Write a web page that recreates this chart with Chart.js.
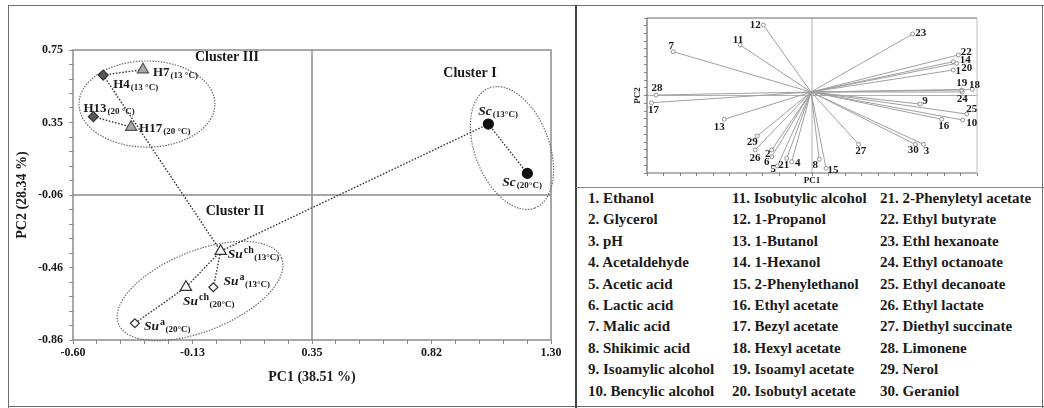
<!DOCTYPE html>
<html>
<head>
<meta charset="utf-8">
<script src="https://cdn.jsdelivr.net/npm/chart.js@4.4.1/dist/chart.umd.min.js"></script>
<style>
  html, body { margin: 0; padding: 0; background: #fff; }
  #fig { position: relative; width: 1044px; height: 408px; overflow: hidden; background: #fff; }
  #score { position: absolute; left: 0; top: 0; }
  #load { position: absolute; left: 577px; top: 0; }
  .rule { position: absolute; background: #6e6e6e; }
  #key { position: absolute; left: 588px; top: 188px; font: bold 15px "Liberation Serif", "Times New Roman", serif; color: #1a1a1a; }
  #key .col { position: absolute; top: 0; white-space: nowrap; line-height: 21.4px; }
</style>
</head>
<body>
<div id="fig">
  <canvas id="score" width="576" height="408"></canvas>
  <canvas id="load" width="467" height="187"></canvas>
  <div id="key"></div>
  <div class="rule" style="left:8px;top:5px;width:1036px;height:1px;"></div>
  <div class="rule" style="left:8px;top:5px;width:1px;height:403px;"></div>
  <div class="rule" style="left:8px;top:406px;width:1036px;height:1px;"></div>
  <div class="rule" style="left:1042px;top:5px;width:1px;height:403px;"></div>
  <div class="rule" style="left:575px;top:5px;width:2px;height:403px;background:#444;"></div>
  <div class="rule" style="left:576px;top:187px;width:468px;height:1px;background:#888;"></div>
</div>
<script>
// ---- Score plot: samples (PC1 / PC2 scores) ----
const sampleNames  = ['H4', 'H7', 'H13', 'H17', 'Sc', 'Sc', 'Su', 'Su', 'Su', 'Su'];
const sampleSup    = ['', '', '', '', '', '', 'ch', 'a', 'ch', 'a'];
const sampleTemps  = ['13 °C', '13 °C', '20 °C', '20 °C', '13°C', '20°C', '13°C', '13°C', '20°C', '20°C'];
const sampleGroups = ['Hd', 'Ht', 'Hd', 'Ht', 'Sc', 'Sc', 'Such', 'Sua', 'Such', 'Sua'];
const scorePC1     = [-0.480, -0.322, -0.519, -0.369, 1.051, 1.206, -0.013, -0.042, -0.151, -0.354];
const scorePC2     = [0.611, 0.641, 0.380, 0.322, 0.339, 0.065, -0.367, -0.567, -0.567, -0.767];
// dendrogram-style links between samples (index pairs)
const sampleLinks  = [[0, 1], [2, 3], [0, 6], [4, 5], [4, 6], [6, 7], [6, 8], [8, 9]];

// axis ticks (major) and their printed labels
const pc1Ticks      = [-0.60, -0.125, 0.35, 0.825, 1.30];
const pc1TickLabels = ['-0.60', '-0.13', '0.35', '0.82', '1.30'];
const pc2Ticks      = [-0.86, -0.4575, -0.055, 0.3475, 0.75];
const pc2TickLabels = ['-0.86', '-0.46', '-0.06', '0.35', '0.75'];

// cluster outlines: centre and two conjugate semi-axes, in PC units
const clusterNames   = ['Cluster I', 'Cluster II', 'Cluster III'];
const clusterCentres = [[1.145, 0.206], [-0.095, -0.588], [-0.306, 0.450]];
const clusterAxisU   = [[0.091, -0.333], [0.324, 0.183], [0.270, 0.0]];
const clusterAxisV   = [[0.138, 0.074], [0.060, -0.206], [0.0, 0.239]];
const clusterTitleAt = [[0.978, 0.622], [0.044, -0.144], [0.012, 0.711]];

// ---- Loading plot: variables ----
const varNames = ['Ethanol', 'Glycerol', 'pH', 'Acetaldehyde', 'Acetic acid', 'Lactic acid', 'Malic acid',
  'Shikimic acid', 'Isoamylic alcohol', 'Bencylic alcohol', 'Isobutylic alcohol', '1-Propanol', '1-Butanol',
  '1-Hexanol', '2-Phenylethanol', 'Ethyl acetate', 'Bezyl acetate', 'Hexyl acetate', 'Isoamyl acetate',
  'Isobutyl acetate', '2-Phenyletyl acetate', 'Ethyl butyrate', 'Ethl hexanoate', 'Ethyl octanoate',
  'Ethyl decanoate', 'Ethyl lactate', 'Diethyl succinate', 'Limonene', 'Nerol', 'Geraniol'];
const loadPC1 = [0.856, -0.244, 0.675, -0.123, -0.210, -0.244, -0.841, 0.044, 0.655, 0.913,
  -0.436, -0.295, -0.532, 0.856, 0.085, 0.786, -0.972, 0.972, 0.907, 0.877,
  -0.153, 0.887, 0.610, 0.910, 0.938, -0.345, 0.283, -0.945, -0.332, 0.626];
const loadPC2 = [0.329, -0.703, -0.630, -0.854, -0.910, -0.790, 0.565, -0.823, -0.110, -0.316,
  0.652, 0.910, -0.307, 0.436, -0.939, -0.307, -0.093, 0.080, 0.070, 0.415,
  -0.810, 0.523, 0.794, 0.045, -0.239, -0.703, -0.630, 0.006, -0.523, -0.630];
const loadOrigin = [-0.006, 0.045];

// ---- layout (pixel offsets of text from its anchor) ----
const sampleLabelOffsets = [[10, 13], [10, 6], [-10, -5], [8, 5], [-10, -9], [-25, 13], [7, 7], [10, -2], [-3, 18], [9, 7]];
const varLabelOffsets = [[5, 1], [-4, 4], [3, 7], [6, 1], [-4, 3], [-5, 5], [-2, -6], [-4, 6], [5, -3], [9, 3],
  [-2, -5], [-8, 0], [-5, 8], [12, -2], [7, 2], [2, 7], [2, 7], [2, -4], [0, -7], [10, 5],
  [-3, 7], [8, -3], [8, -1], [0, 7], [5, -5], [0, 8], [2, 7], [1, -7], [-5, 6], [-2, 6]];

const SERIF = '"Liberation Serif", "Times New Roman", serif';
const INK = '#1a1a1a';

const groupStyle = {
  Hd:   { pointStyle: 'rectRot',  radius: 5,   bg: '#5a5a5a', border: '#333' },
  Ht:   { pointStyle: 'triangle', radius: 6.5, bg: '#a9a9a9', border: '#555' },
  Sc:   { pointStyle: 'circle',   radius: 5,   bg: '#111',    border: '#111' },
  Such: { pointStyle: 'triangle', radius: 6.5, bg: '#fff',    border: '#333' },
  Sua:  { pointStyle: 'rectRot',  radius: 4.5, bg: '#fff',    border: '#333' }
};

function withMinor(majors, parts) {
  const out = [];
  for (let i = 0; i < majors.length - 1; i++) {
    for (let k = 0; k < parts; k++) out.push(majors[i] + k * (majors[i + 1] - majors[i]) / parts);
  }
  out.push(majors[majors.length - 1]);
  return out;
}
function labelFor(v, values, labels) {
  const i = values.findIndex(t => Math.abs(t - v) < 1e-6);
  return i < 0 ? '' : labels[i];
}

// link lines (drawn under the markers)
const linkSets = sampleLinks.map(([a, b]) => ({
  type: 'line',
  data: [{ x: scorePC1[a], y: scorePC2[a] }, { x: scorePC1[b], y: scorePC2[b] }],
  borderColor: '#3a3a3a', borderWidth: 1.4, borderDash: [1.6, 1.6],
  pointRadius: 0, fill: false, order: 3
}));
const markerSets = Object.keys(groupStyle).map(g => {
  const st = groupStyle[g];
  const pts = [];
  sampleGroups.forEach((sg, i) => { if (sg === g) pts.push({ x: scorePC1[i], y: scorePC2[i] }); });
  return {
    type: 'scatter', data: pts, order: 1,
    pointStyle: st.pointStyle, pointRadius: st.radius,
    backgroundColor: st.bg, borderColor: st.border, borderWidth: 1.2
  };
});

const scoreDecor = {
  id: 'scoreDecor',
  beforeDatasetsDraw(chart) {
    const { ctx, chartArea: a, scales: { x, y } } = chart;
    ctx.save();
    ctx.strokeStyle = '#8c8c8c';
    ctx.lineWidth = 1.5;
    ctx.strokeRect(a.left, a.top, a.right - a.left, a.bottom - a.top);
    const cx = x.getPixelForValue(pc1Ticks[2]);
    const cy = y.getPixelForValue(pc2Ticks[2]);
    ctx.beginPath();
    ctx.moveTo(cx, a.top); ctx.lineTo(cx, a.bottom);
    ctx.moveTo(a.left, cy); ctx.lineTo(a.right, cy);
    ctx.stroke();
    // cluster outlines
    clusterCentres.forEach((c, i) => {
      const px = x.getPixelForValue(c[0]), py = y.getPixelForValue(c[1]);
      const u = clusterAxisU[i], v = clusterAxisV[i];
      const ux = x.getPixelForValue(c[0] + u[0]) - px, uy = y.getPixelForValue(c[1] + u[1]) - py;
      const vx = x.getPixelForValue(c[0] + v[0]) - px, vy = y.getPixelForValue(c[1] + v[1]) - py;
      ctx.beginPath();
      ctx.save();
      ctx.transform(ux, uy, vx, vy, px, py);
      ctx.arc(0, 0, 1, 0, Math.PI * 2);
      ctx.restore();
      ctx.setLineDash([1.4, 1.4]);
      ctx.lineWidth = 1.2;
      ctx.strokeStyle = '#666';
      ctx.stroke();
    });
    ctx.restore();
  },
  afterDatasetsDraw(chart) {
    const { ctx, scales: { x, y } } = chart;
    ctx.save();
    ctx.fillStyle = INK;
    ctx.textAlign = 'center';
    ctx.textBaseline = 'middle';
    ctx.font = 'bold 14px ' + SERIF;
    clusterNames.forEach((n, i) => {
      ctx.fillText(n, x.getPixelForValue(clusterTitleAt[i][0]), y.getPixelForValue(clusterTitleAt[i][1]));
    });
    ctx.textAlign = 'left';
    ctx.textBaseline = 'alphabetic';
    sampleNames.forEach((n, i) => {
      const px = x.getPixelForValue(scorePC1[i]) + sampleLabelOffsets[i][0];
      const py = y.getPixelForValue(scorePC2[i]) + sampleLabelOffsets[i][1];
      const italic = n === 'Sc' || n === 'Su';
      ctx.font = (italic ? 'italic bold 13.5px ' : 'bold 13px ') + SERIF;
      ctx.fillText(n, px, py);
      let cx = px + ctx.measureText(n).width + 1;
      if (sampleSup[i]) {
        ctx.font = 'bold 10px ' + SERIF;
        ctx.fillText(sampleSup[i], cx, py - 5);
        cx += ctx.measureText(sampleSup[i]).width + 0.5;
      }
      ctx.font = 'bold 9px ' + SERIF;
      ctx.fillText('(' + sampleTemps[i] + ')', cx, py + 2);
    });
    ctx.restore();
  }
};

const tickFont = { family: SERIF, size: 12, weight: 'bold' };
const titleFont = { family: SERIF, size: 14, weight: 'bold' };

new Chart(document.getElementById('score'), {
  type: 'scatter',
  data: { datasets: [...linkSets, ...markerSets] },
  options: {
    responsive: false, animation: false, events: [],
    layout: { padding: { left: 0, right: 25, top: 50, bottom: 0 } },
    plugins: { legend: { display: false }, tooltip: { enabled: false } },
    scales: {
      x: {
        type: 'linear', min: pc1Ticks[0], max: pc1Ticks[pc1Ticks.length - 1],
        afterBuildTicks: s => { s.ticks = withMinor(pc1Ticks, 5).map(v => ({ value: v })); },
        ticks: { autoSkip: false, maxRotation: 0, padding: 2, color: INK, font: tickFont,
                 callback: v => labelFor(v, pc1Ticks, pc1TickLabels) },
        grid: { drawOnChartArea: false, tickLength: 4, color: '#888' },
        border: { display: false },
        title: { display: true, text: 'PC1 (38.51 %)', color: INK, font: titleFont, padding: { top: 0, bottom: 22 } },
        afterFit: s => { s.height = 68; }
      },
      y: {
        type: 'linear', min: pc2Ticks[0], max: pc2Ticks[pc2Ticks.length - 1],
        afterBuildTicks: s => { s.ticks = withMinor(pc2Ticks, 5).map(v => ({ value: v })); },
        ticks: { autoSkip: false, padding: 6, color: INK, font: tickFont,
                 callback: v => labelFor(v, pc2Ticks, pc2TickLabels) },
        grid: { drawOnChartArea: false, tickLength: 4, color: '#888' },
        border: { display: false },
        title: { display: true, text: 'PC2 (28.34 %)', color: INK, font: titleFont, padding: { top: 14, bottom: 0 } },
        afterFit: s => { s.width = 73; }
      }
    }
  },
  plugins: [scoreDecor]
});

// ---- loading plot ----
const vectorSets = loadPC1.map((lx, i) => ({
  type: 'line',
  data: [{ x: loadOrigin[0], y: loadOrigin[1] }, { x: lx, y: loadPC2[i] }],
  borderColor: '#a0a0a0', borderWidth: 1, fill: false,
  pointRadius: [0, 2], pointBackgroundColor: '#fff', pointBorderColor: '#7a7a7a', pointBorderWidth: 0.8
}));

const loadDecor = {
  id: 'loadDecor',
  beforeDatasetsDraw(chart) {
    const { ctx, chartArea: a, scales: { x, y } } = chart;
    ctx.save();
    ctx.strokeStyle = '#b0b0b0';
    ctx.lineWidth = 1;
    const cx = x.getPixelForValue(0), cy = y.getPixelForValue(0);
    ctx.beginPath();
    ctx.moveTo(cx, a.top); ctx.lineTo(cx, a.bottom);
    ctx.moveTo(a.left, cy); ctx.lineTo(a.right, cy);
    ctx.stroke();
    ctx.strokeStyle = '#6a6a6a';
    ctx.lineWidth = 1.2;
    ctx.beginPath();
    ctx.moveTo(a.left, a.bottom); ctx.lineTo(a.left, a.top); ctx.lineTo(a.right, a.top);
    ctx.moveTo(a.left, a.bottom); ctx.lineTo(a.right, a.bottom);
    ctx.stroke();
    ctx.strokeStyle = '#c8c8c8';
    ctx.beginPath();
    ctx.moveTo(a.right, a.top); ctx.lineTo(a.right, a.bottom);
    ctx.stroke();
    ctx.restore();
  },
  afterDatasetsDraw(chart) {
    const { ctx, scales: { x, y } } = chart;
    ctx.save();
    ctx.fillStyle = INK;
    ctx.font = 'bold 11px ' + SERIF;
    ctx.textAlign = 'center';
    ctx.textBaseline = 'middle';
    loadPC1.forEach((lx, i) => {
      ctx.fillText(String(i + 1), x.getPixelForValue(lx) + varLabelOffsets[i][0], y.getPixelForValue(loadPC2[i]) + varLabelOffsets[i][1]);
    });
    ctx.restore();
  }
};

const smallTitle = { family: SERIF, size: 9, weight: 'bold' };
new Chart(document.getElementById('load'), {
  type: 'scatter',
  data: { datasets: vectorSets },
  options: {
    responsive: false, animation: false, events: [],
    layout: { padding: { left: 50, right: 67, top: 18, bottom: 0 } },
    plugins: { legend: { display: false }, tooltip: { enabled: false } },
    scales: {
      x: {
        type: 'linear', min: -1, max: 1,
        ticks: { display: false, stepSize: 0.1 },
        grid: { drawOnChartArea: false, tickLength: 3, color: '#888' },
        border: { display: false },
        title: { display: true, text: 'PC1', color: INK, font: smallTitle, padding: { top: 0, bottom: 1 } },
        afterFit: s => { s.height = 14; }
      },
      y: {
        type: 'linear', min: -1, max: 1,
        ticks: { display: false, stepSize: 0.1 },
        grid: { drawOnChartArea: false, tickLength: 3, color: '#888' },
        border: { display: false },
        title: { display: true, text: 'PC2', color: INK, font: smallTitle, padding: { top: 5.6, bottom: 0 } },
        afterFit: s => { s.width = 20; }
      }
    }
  },
  plugins: [loadDecor]
});

// ---- variable key (three columns of ten) ----
const key = document.getElementById('key');
const colX = [0, 144, 292];
for (let c = 0; c < 3; c++) {
  const col = document.createElement('div');
  col.className = 'col';
  col.style.left = colX[c] + 'px';
  col.innerHTML = varNames.slice(c * 10, c * 10 + 10).map((n, j) => (c * 10 + j + 1) + '. ' + n).join('<br>');
  key.appendChild(col);
}
</script>
</body>
</html>
